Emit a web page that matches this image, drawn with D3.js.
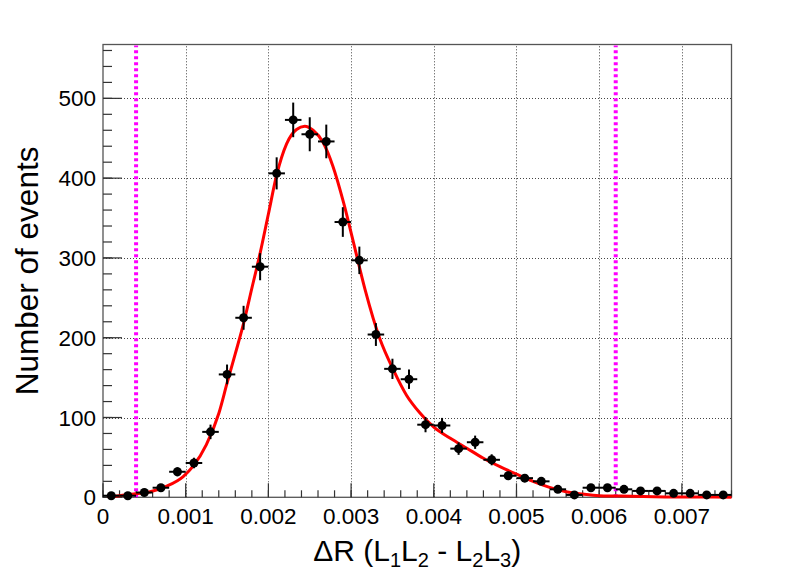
<!DOCTYPE html>
<html><head><meta charset="utf-8">
<script src="https://cdn.jsdelivr.net/npm/d3@7"></script>
<style>body{margin:0;background:#fff}svg{display:block}text{font-family:"Liberation Sans",Arial,Helvetica,sans-serif}</style>
</head><body><svg id="c" width="796" height="573"></svg>
<script>
// bin centres (x, in units of 1e-3)
const binCenters = [0.1,0.3,0.5,0.7,0.9,1.1,1.3,1.5,1.7,1.9,2.1,2.3,2.5,2.7,2.9,3.1,3.3,3.5,3.7,3.9,4.1,4.3,4.5,4.7,4.9,5.1,5.3,5.5,5.7,5.9,6.1,6.3,6.5,6.7,6.9,7.1,7.3,7.5];
const binHalfWidth = 0.1;
const counts = [2,2,6,12,32,43,82,154,225,289,406,473,455,446,345,297,204,161,148,91,90,61,69,47,27,24,20,10,3,12,12,10,8,8,5,5,3,3];
const countErrors = [1.4,1.4,2.4,3.5,5.7,6.6,9.1,12.4,15,17,20.1,21.7,21.3,21.1,18.6,17.2,14.3,12.7,12.2,9.5,9.5,7.8,8.3,6.9,5.2,4.9,4.5,3.2,1.7,3.5,3.5,3.2,2.8,2.8,2.2,2.2,1.7,1.7];
// fitted curve
const fitX = [0.05,0.2,0.37,0.57,0.77,0.97,1.09,1.25,1.40,1.50,1.60,1.70,1.80,1.90,2.00,2.10,2.22,2.34,2.44,2.54,2.66,2.78,2.91,3.03,3.17,3.35,3.51,3.67,3.83,4.00,4.20,4.40,4.60,4.80,5.00,5.20,5.40,5.60,5.80,6.00,6.20,6.40,6.80,7.20,7.60];
const fitY = [1,2,4,7,14,26,39,66,105,143,180,218,262,306,355,404,443,461,465,460,445,415,369,319,260,198,160,128,106,88,74,61.5,49,38.5,29,20,12.5,7,4,2,1.6,1.2,0.5,0.3,0.2];
// cut lines
const cutLines = [0.4, 6.2];
const xTicks = [0,1,2,3,4,5,6,7];
const xTickLabels = ["0","0.001","0.002","0.003","0.004","0.005","0.006","0.007"];
const yTicks = [0,100,200,300,400,500];
const xDomain = [0, 7.6];
const yDomain = [0, 567.5];

const svg = d3.select("#c");
const L = 103, R = 731.5, T = 44.5, B = 497.3;
const x = d3.scaleLinear().domain(xDomain).range([L, R]);
const y = d3.scaleLinear().domain(yDomain).range([B, T]);

// grid
const grid = svg.append("g").attr("stroke","#444").attr("stroke-width",1).attr("stroke-dasharray","1,2");
grid.selectAll(".gx").data(xTicks.filter(d=>d>0)).join("line")
  .attr("x1",d=>Math.round(x(d))+0.5).attr("x2",d=>Math.round(x(d))+0.5).attr("y1",B).attr("y2",T);
grid.selectAll(".gy").data(yTicks.filter(d=>d>0)).join("line")
  .attr("y1",d=>Math.round(y(d))+0.5).attr("y2",d=>Math.round(y(d))+0.5).attr("x1",L).attr("x2",R);

// frame
svg.append("rect").attr("x",L).attr("y",T).attr("width",R-L).attr("height",B-T)
  .attr("fill","none").attr("stroke","#555").attr("stroke-width",1.3);

// axes
const xMinor = d3.range(0, 7.61, 0.2);
const ax = svg.append("g");
ax.selectAll(".xm").data(xMinor).join("line")
  .attr("x1",d=>x(d)).attr("x2",d=>x(d)).attr("y1",B).attr("y2",B-7)
  .attr("stroke","#333").attr("stroke-width",1.2);
ax.selectAll(".xM").data(xTicks).join("line")
  .attr("x1",d=>x(d)).attr("x2",d=>x(d)).attr("y1",B).attr("y2",B-14)
  .attr("stroke","#333").attr("stroke-width",1.2);
const yMinor = d3.range(0, 561, 20);
ax.selectAll(".ym").data(yMinor).join("line")
  .attr("x1",L).attr("x2",L+9).attr("y1",d=>y(d)).attr("y2",d=>y(d))
  .attr("stroke","#333").attr("stroke-width",1.2);
ax.selectAll(".yM").data(yTicks).join("line")
  .attr("x1",L).attr("x2",L+19).attr("y1",d=>y(d)).attr("y2",d=>y(d))
  .attr("stroke","#333").attr("stroke-width",1.2);
ax.selectAll(".xl").data(xTicks).join("text")
  .attr("x",d=>x(d)).attr("y",B+27).attr("text-anchor","middle")
  .attr("font-size",22.5).attr("fill","#000").text((d,i)=>xTickLabels[i]);
ax.selectAll(".yl").data(yTicks).join("text")
  .attr("x",L-7).attr("y",d=>y(d)+8).attr("text-anchor","end")
  .attr("font-size",22.5).attr("fill","#000").text(d=>d);

// titles
svg.append("text").attr("transform",`translate(38,${(T+B)/2}) rotate(-90)`)
  .attr("text-anchor","middle").attr("font-size",31.5).text("Number of events");
const xt = svg.append("text").attr("x",(L+R)/2).attr("y",561).attr("text-anchor","middle").attr("font-size",30);
xt.append("tspan").text("ΔR (L");
xt.append("tspan").attr("font-size",20).attr("dy",6).text("1");
xt.append("tspan").attr("dy",-6).text("L");
xt.append("tspan").attr("font-size",20).attr("dy",6).text("2");
xt.append("tspan").attr("dy",-6).text(" - L");
xt.append("tspan").attr("font-size",20).attr("dy",6).text("2");
xt.append("tspan").attr("dy",-6).text("L");
xt.append("tspan").attr("font-size",20).attr("dy",6).text("3");
xt.append("tspan").attr("dy",-6).text(")");

// magenta cut lines
svg.selectAll(".cut").data(cutLines).join("line")
  .attr("x1",d=>x(d)).attr("x2",d=>x(d)).attr("y1",B).attr("y2",T+1)
  .attr("stroke","#ff00ff").attr("stroke-width",4).attr("stroke-dasharray","3,3");

// fit curve
const fitData = fitX.map((d,i)=>[d,fitY[i]]);
svg.append("path").datum(fitData)
  .attr("d", d3.line().x(d=>x(d[0])).y(d=>y(d[1])).curve(d3.curveMonotoneX))
  .attr("fill","none").attr("stroke","#ff0000").attr("stroke-width",3);

// data points
const pts = binCenters.map((c,i)=>({c, n:counts[i], e:countErrors[i]}));
const g = svg.append("g").attr("stroke","#000").attr("stroke-width",2);
g.selectAll(".ex").data(pts).join("line")
  .attr("x1",d=>x(d.c-binHalfWidth)).attr("x2",d=>x(d.c+binHalfWidth))
  .attr("y1",d=>y(d.n)).attr("y2",d=>y(d.n));
g.selectAll(".ey").data(pts).join("line")
  .attr("x1",d=>x(d.c)).attr("x2",d=>x(d.c))
  .attr("y1",d=>y(d.n-d.e)).attr("y2",d=>y(d.n+d.e));
svg.selectAll(".pt").data(pts).join("circle")
  .attr("cx",d=>x(d.c)).attr("cy",d=>y(d.n)).attr("r",4.5).attr("fill","#000");
</script></body></html>
